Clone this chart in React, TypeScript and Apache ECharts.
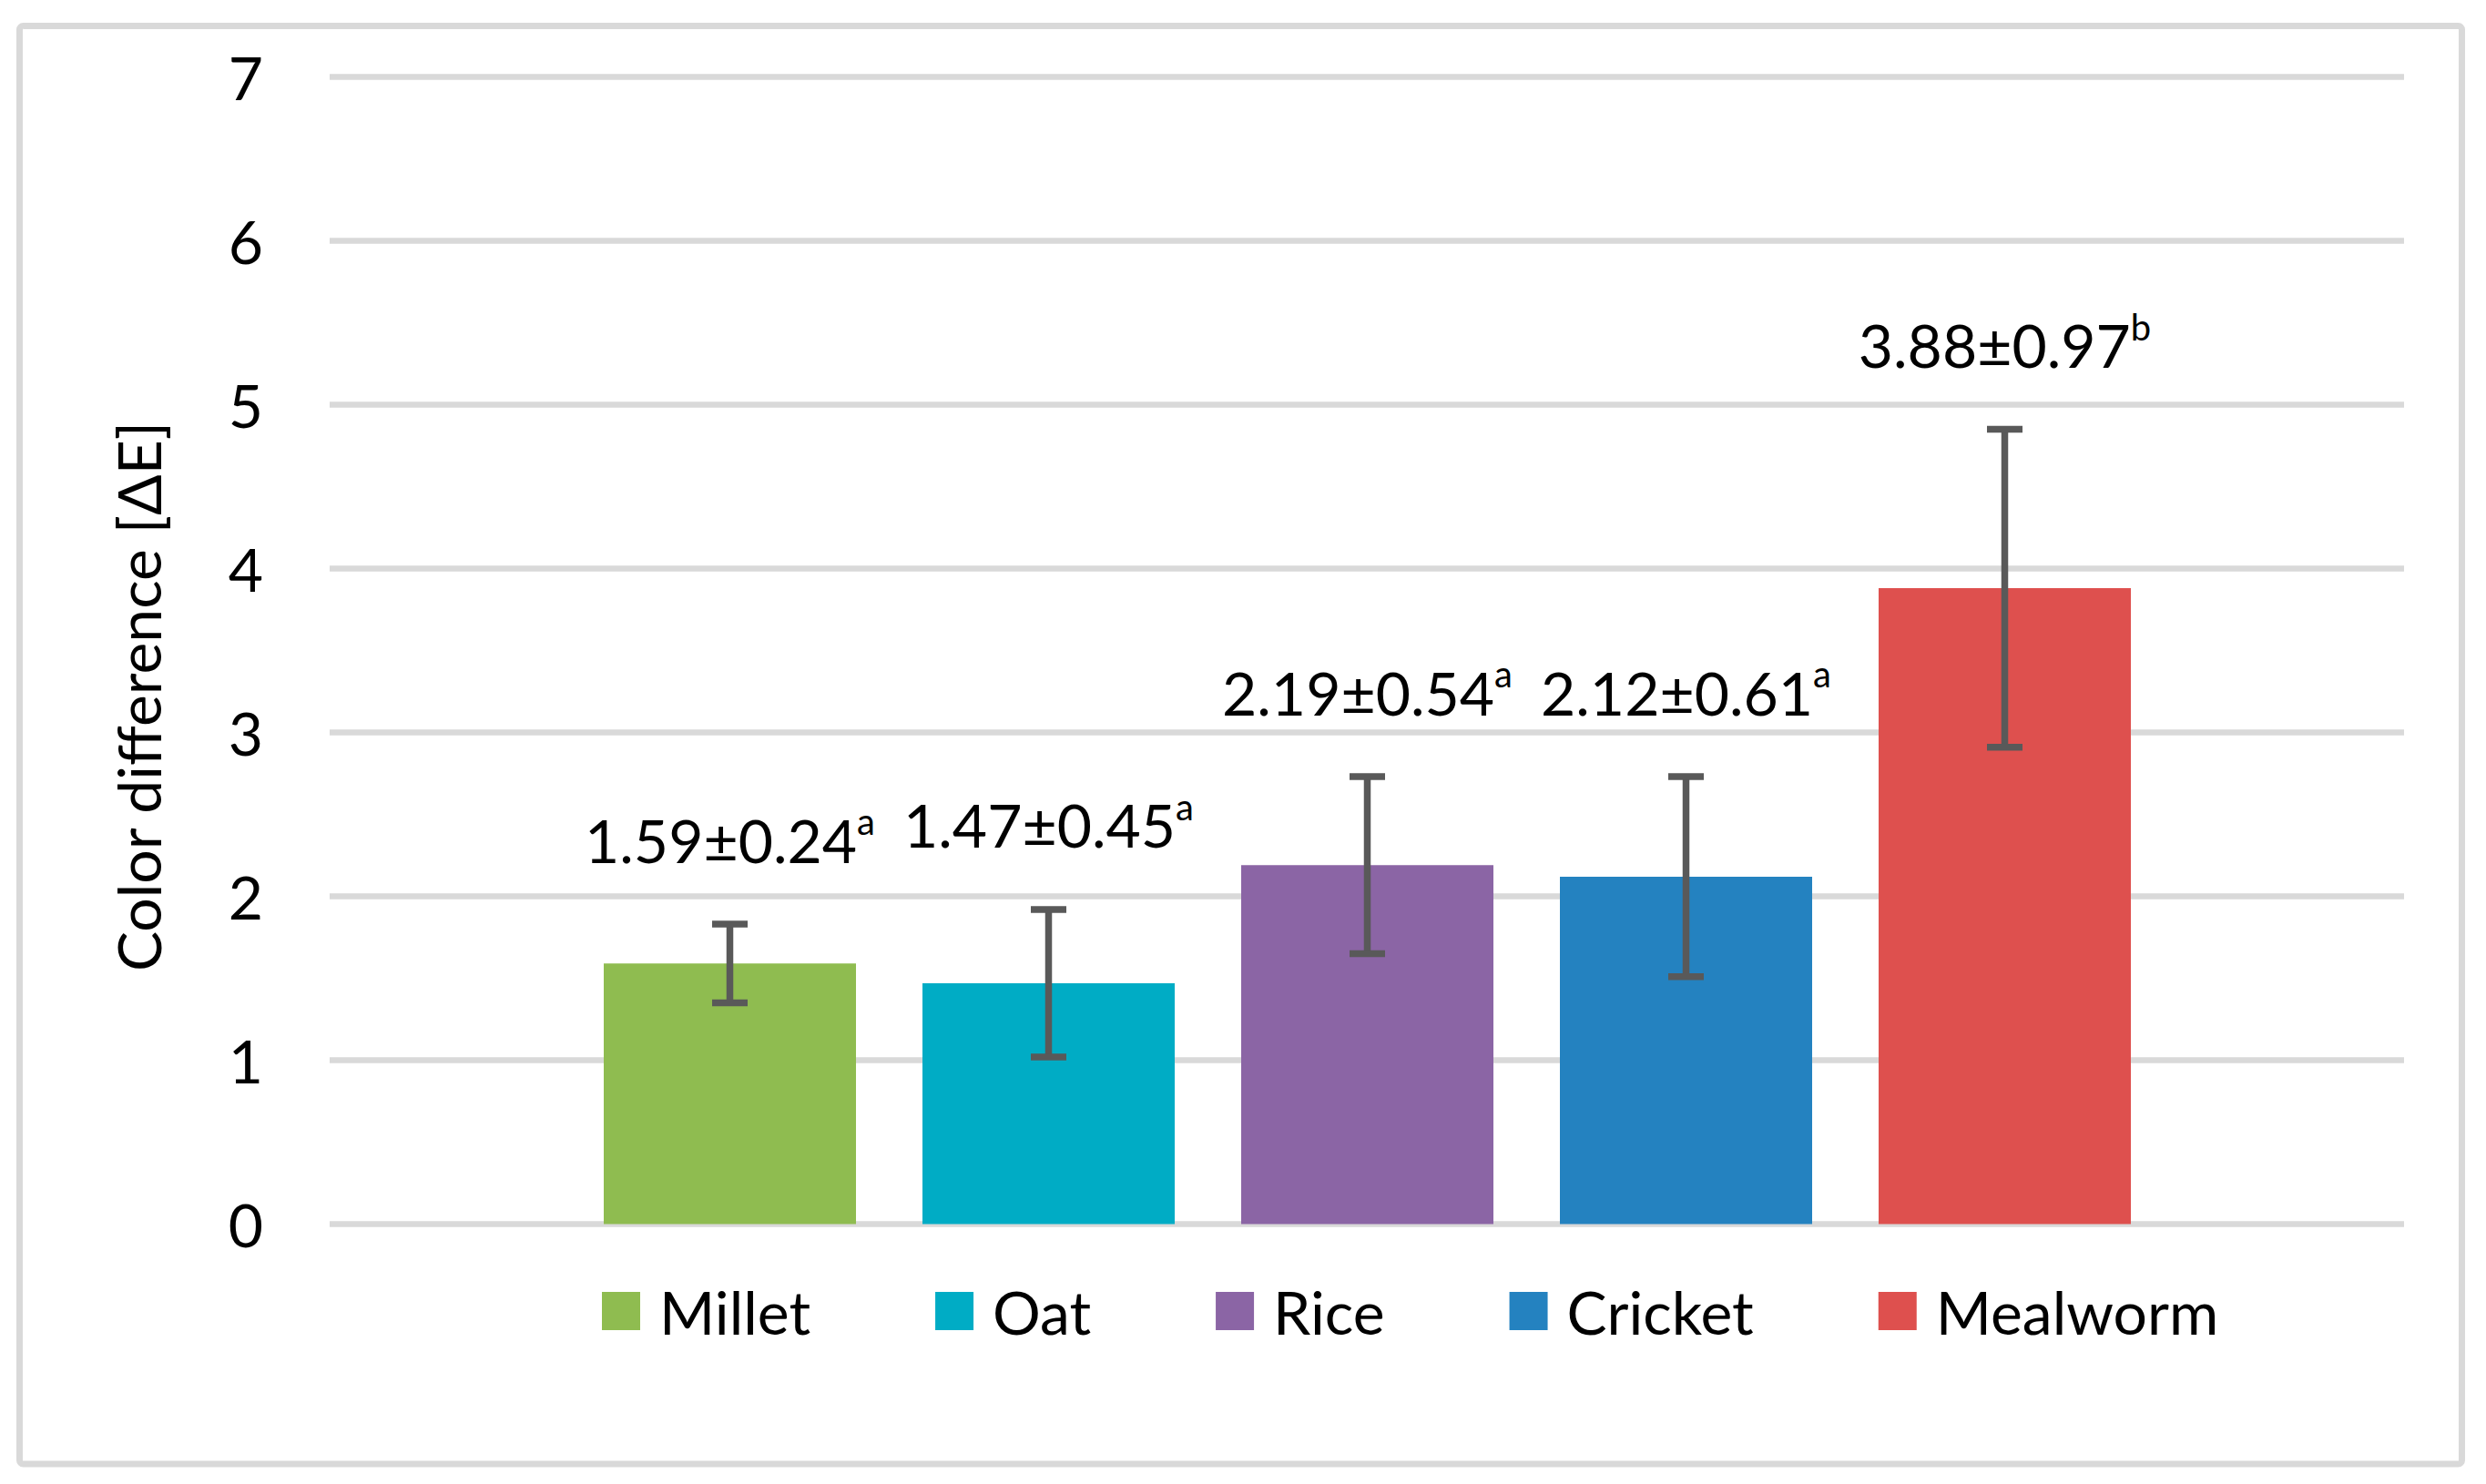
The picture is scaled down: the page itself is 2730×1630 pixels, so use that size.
import React, { useEffect, useRef } from "react";
import * as echarts from "echarts";

const categories = ["Millet", "Oat", "Rice", "Cricket", "Mealworm"];
const means = [1.59, 1.47, 2.19, 2.12, 3.88];
const sds = [0.24, 0.45, 0.54, 0.61, 0.97];
const letters = ["a", "a", "a", "a", "b"];
const colors = ["#8FBC50", "#00ACC5", "#8B65A5", "#2482C0", "#DE504E"];
const yMin = 0;
const yMax = 7;
const yInterval = 1;
const yTitle = "Color difference [ΔE]";

const FONT = "Lato";

export default function App() {
  const ref = useRef<HTMLDivElement>(null);
  useEffect(() => {
    if (!ref.current) return;
    const chart = echarts.init(ref.current, undefined, { renderer: "svg" });

    const barSeries = categories.map((name, i) => ({
      type: "bar",
      name,
      xAxisIndex: 1,
      yAxisIndex: 1,
      barWidth: 277,
      barGap: "-100%",
      itemStyle: { color: colors[i] },
      data: categories.map((_, j) => (j === i ? means[i] : "-")),
    }));

    const errData = categories.map((_, i) => [i, means[i], sds[i]]);

    const option = {
      animation: false,
      backgroundColor: "#ffffff",
      grid: [
        { left: 362, right: 90, top: 84.5, bottom: 285.5 },
        { left: 626.5, right: 353.5, top: 84.5, bottom: 285.5 },
      ],
      xAxis: [
        { type: "category", gridIndex: 0, data: [""], show: false },
        { type: "category", gridIndex: 1, data: categories, show: false },
      ],
      yAxis: [
        {
          type: "value",
          gridIndex: 0,
          min: yMin,
          max: yMax,
          interval: yInterval,
          axisLine: { show: false },
          axisTick: { show: false },
          axisLabel: {
            fontSize: 66,
            fontFamily: FONT,
            color: "#000",
            margin: 73,
          },
          splitLine: { lineStyle: { color: "#d9d9d9", width: 6.5 } },
        },
        {
          type: "value",
          gridIndex: 1,
          min: yMin,
          max: yMax,
          interval: yInterval,
          show: false,
          splitLine: { show: false },
        },
      ],
      legend: {
        data: categories,
        left: 661,
        top: 1407,
        padding: 0,
        itemWidth: 42,
        itemHeight: 42,
        itemGap: 137,
        icon: "rect",
        textStyle: {
          fontSize: 66,
          fontFamily: FONT,
          color: "#000",
          lineHeight: 66,
          padding: [0, 0, 0, 16],
        },
      },
      graphic: [
        {
          type: "rect",
          shape: { x: 21.5, y: 28.5, width: 2682, height: 1579.5, r: 4 },
          style: { fill: "none", stroke: "#d9d9d9", lineWidth: 7 },
          silent: true,
        },
        {
          type: "text",
          x: 151,
          y: 765,
          rotation: Math.PI / 2,
          style: {
            text: yTitle,
            fontSize: 66,
            fontFamily: FONT,
            fill: "#000",
            align: "center",
            verticalAlign: "middle",
          },
        },
      ],
      series: [
        ...barSeries,
        {
          type: "custom",
          xAxisIndex: 1,
          yAxisIndex: 1,
          data: errData,
          z: 10,
          renderItem: (params: any, api: any) => {
            const x = api.value(0);
            const m = api.value(1);
            const s = api.value(2);
            const top = api.coord([x, m + s]);
            const bot = api.coord([x, m - s]);
            const cx = top[0];
            const half = 19.5;
            const lineStyle = { stroke: "#595959", lineWidth: 7.5 };
            const idx = params.dataIndex;
            return {
              type: "group",
              children: [
                { type: "line", shape: { x1: cx, y1: top[1], x2: cx, y2: bot[1] }, style: lineStyle },
                { type: "line", shape: { x1: cx - half, y1: top[1], x2: cx + half, y2: top[1] }, style: lineStyle },
                { type: "line", shape: { x1: cx - half, y1: bot[1], x2: cx + half, y2: bot[1] }, style: lineStyle },
                {
                  type: "text",
                  x: cx,
                  y: top[1] - 93,
                  style: {
                    text: `{v|${means[idx].toFixed(2)}±${sds[idx].toFixed(2)}}{s|${letters[idx]}}`,
                    align: "center",
                    verticalAlign: "middle",
                    rich: {
                      v: { fontSize: 66, fontFamily: FONT, fill: "#000", lineHeight: 80 },
                      s: { fontSize: 40, fontFamily: FONT, fill: "#000", lineHeight: 44, verticalAlign: "top" },
                    },
                  },
                },
              ],
            };
          },
        },
      ],
    };

    chart.setOption(option as any);
    return () => chart.dispose();
  }, []);

  return (
    <div
      ref={ref}
      style={{ position: "absolute", left: 0, top: 0, width: 2730, height: 1630 }}
    />
  );
}
